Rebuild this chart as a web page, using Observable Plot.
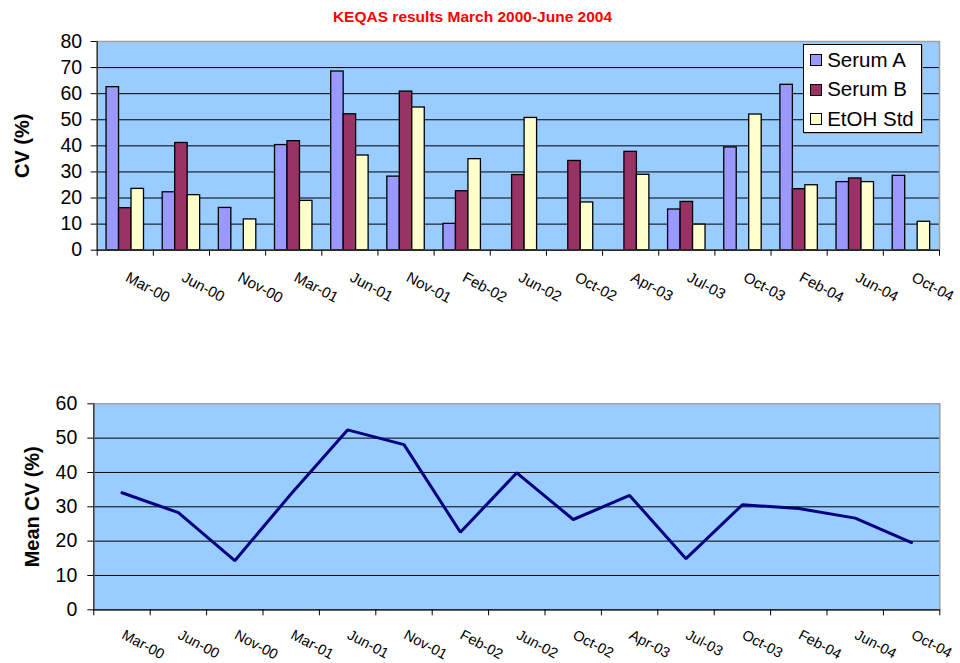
<!DOCTYPE html>
<html><head><meta charset="utf-8">
<script src="https://cdn.jsdelivr.net/npm/d3@7"></script>
<script src="https://cdn.jsdelivr.net/npm/@observablehq/plot@0.6"></script>
<style>
body{margin:0;background:#fff;font-family:"Liberation Sans",Arial,sans-serif;}
#wrap{position:relative;width:960px;height:663px;overflow:hidden;background:#fff;}
</style></head><body><div id="wrap"></div>
<script>
const categories = ["Mar-00","Jun-00","Nov-00","Mar-01","Jun-01","Nov-01","Feb-02","Jun-02","Oct-02","Apr-03","Jul-03","Oct-03","Feb-04","Jun-04","Oct-04"];
const seriesNames = ["Serum A","Serum B","EtOH Std"];
const seriesColors = ["#9999FF","#993366","#FFFFCC"];
const serumA  = [62.5, 22.2, 16.2, 40.3, 68.5, 28.2, 10.1, null, null, null, 15.6, 39.4, 63.4, 26.1, 28.5];
const serumB  = [16.1, 41.1, null, 41.8, 52.1, 60.8, 22.6, 28.8, 34.2, 37.7, 18.5, null, 23.4, 27.5, null];
const etohStd = [23.5, 21.1, 11.8, 18.9, 36.3, 54.7, 34.9, 50.7, 18.3, 28.9,  9.8, 52.0, 24.9, 26.1, 10.9];
const meanCV  = [34.1, 28.3, 14.3, 33.8, 52.4, 48.1, 22.6, 39.9, 26.3, 33.3, 14.9, 30.6, 29.5, 26.7, 19.6];
const topTicks = [0,10,20,30,40,50,60,70,80];
const bottomTicks = [0,10,20,30,40,50,60];
const titleText = "KEQAS results March 2000-June 2004";
const topYLabel = "CV (%)";
const bottomYLabel = "Mean CV (%)";

(function () {
const wrap = document.getElementById("wrap");
const FONT = "'Liberation Sans', Arial, sans-serif";
const n = categories.length;
const barW = 1 / 4.5;           // Excel gap width 150%
const gap = 0.75 * barW;

const seriesVals = [serumA, serumB, etohStd];
const bars = [];
seriesVals.forEach((vals, s) => vals.forEach((v, i) => {
  if (v != null) bars.push({cat: i, s, value: v});
}));
const labelData = categories.map((c, i) => ({c, i}));

function place(el, t, l) {
  el.style.position = "absolute"; el.style.top = t + "px"; el.style.left = (l||0) + "px";
  wrap.appendChild(el);
}

const topChart = Plot.plot({
  width: 960, height: 300,
  marginTop: 11, marginBottom: 80.3, marginLeft: 96.7, marginRight: 21,
  style: {fontFamily: FONT, fontSize: "19px", background: "transparent", overflow: "visible", color: "black"},
  x: {type: "linear", domain: [0, n], axis: null},
  y: {domain: [0, 80], axis: null},
  marks: [
    Plot.frame({fill: "#99CCFF", stroke: null}),
    Plot.ruleY(topTicks.filter(t => t > 0 && t < 80), {stroke: "black", strokeWidth: 1}),
    Plot.rectY(bars, {
      x1: d => d.cat + gap + d.s * barW,
      x2: d => d.cat + gap + (d.s + 1) * barW,
      y: "value",
      fill: d => seriesColors[d.s],
      stroke: "black", strokeWidth: 1.3
    }),
    Plot.frame({stroke: "#a0a0a0", strokeWidth: 1.5}),
    Plot.ruleX([0], {stroke: "#303030", strokeWidth: 1.3}),
    Plot.ruleY([0], {stroke: "black", strokeWidth: 1.3}),
    Plot.axisY({ticks: topTicks, tickSize: 6, tickPadding: 9, fontSize: 19.5, label: null, tickFormat: d => d}),
    Plot.axisX({ticks: d3.range(0, n + 1), tickSize: 6, tickFormat: () => "", label: null}),
    Plot.text(labelData, {x: d => d.i + 0.5, text: "c", frameAnchor: "bottom", rotate: 28,
      textAnchor: "start", lineAnchor: "top", dx: 4.2, dy: 21, fontSize: 15, fill: "black"}),
    Plot.text([topYLabel], {text: d => d, frameAnchor: "left", rotate: -90, dx: -75,
      lineAnchor: "middle", textAnchor: "middle", fontSize: 20, fontWeight: "bold", fill: "black"})
  ]
});
place(topChart, 30, 0);

const bottomChart = Plot.plot({
  width: 960, height: 323,
  marginTop: 63.3, marginBottom: 53.7, marginLeft: 93.3, marginRight: 20.7,
  style: {fontFamily: FONT, fontSize: "19px", background: "transparent", overflow: "visible", color: "black"},
  x: {type: "linear", domain: [0, n], axis: null},
  y: {domain: [0, 60], axis: null},
  marks: [
    Plot.frame({fill: "#99CCFF", stroke: null}),
    Plot.ruleY(bottomTicks.filter(t => t > 0 && t < 60), {stroke: "black", strokeWidth: 1}),
    Plot.line(meanCV, {x: (d, i) => i + 0.5, y: d => d, stroke: "#000080", strokeWidth: 3, strokeLinejoin: "miter"}),
    Plot.frame({stroke: "#a0a0a0", strokeWidth: 1.5}),
    Plot.ruleX([0], {stroke: "#303030", strokeWidth: 1.3}),
    Plot.ruleY([0], {stroke: "black", strokeWidth: 1.3}),
    Plot.axisY({ticks: bottomTicks, tickSize: 6, tickPadding: 10.5, fontSize: 19.5, label: null, tickFormat: d => d}),
    Plot.axisX({ticks: d3.range(0, n + 1), tickSize: 6, tickFormat: () => "", label: null}),
    Plot.text(labelData, {x: d => d.i + 0.5, text: "c", frameAnchor: "bottom", rotate: 28,
      textAnchor: "start", lineAnchor: "top", dx: 3.5, dy: 19, fontSize: 14.5, fill: "black"}),
    Plot.text([bottomYLabel], {text: d => d, frameAnchor: "left", rotate: -90, dx: -61,
      lineAnchor: "middle", textAnchor: "middle", fontSize: 20, fontWeight: "bold", fill: "black"})
  ]
});
place(bottomChart, 340, 0);

const title = document.createElement("div");
title.textContent = titleText;
Object.assign(title.style, {width: "945px", textAlign: "center", fontWeight: "bold", fontSize: "15.5px",
  lineHeight: "16px", color: "#FF0000", fontFamily: FONT, whiteSpace: "nowrap"});
place(title, 9.3, 0);

const legend = document.createElement("div");
Object.assign(legend.style, {width: "119px", height: "88.4px", boxSizing: "border-box",
  border: "1px solid black", background: "white", boxShadow: "1px 1px 0 #a0a0a0"});
place(legend, 44.3, 802.5);
seriesNames.forEach((name, i) => {
  const sw = document.createElement("div");
  Object.assign(sw.style, {width: "12px", height: "12px", boxSizing: "border-box",
    border: "1px solid black", background: seriesColors[i]});
  place(sw, 54 + 29.6 * i, 810);
  const tx = document.createElement("div");
  tx.textContent = name;
  Object.assign(tx.style, {fontSize: "20.5px", lineHeight: "20px", fontFamily: FONT, color: "black", whiteSpace: "nowrap"});
  place(tx, 49.6 + 29.6 * i, 827.2);
});
})();
</script></body></html>
